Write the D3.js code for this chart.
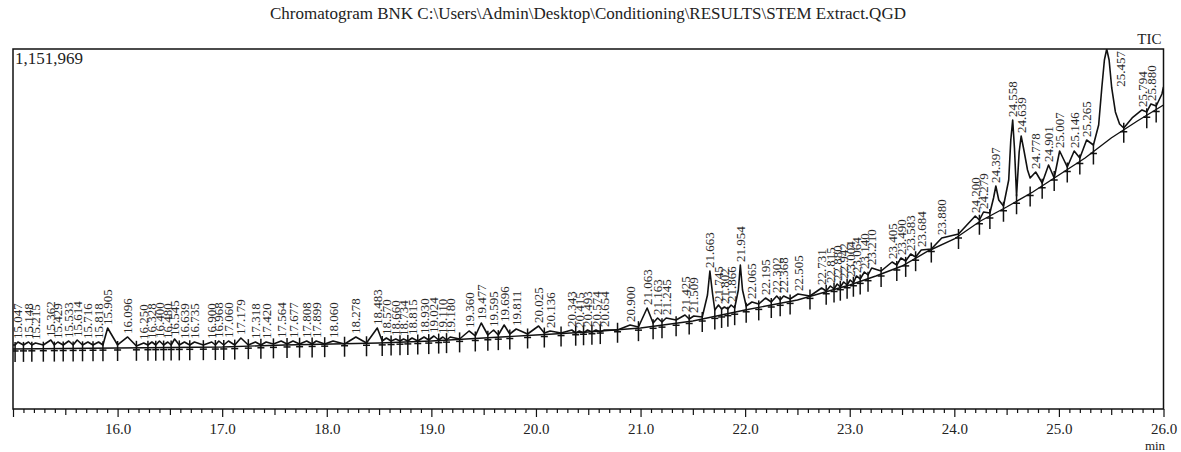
<!DOCTYPE html>
<html>
<head>
<meta charset="utf-8">
<script src="https://cdn.jsdelivr.net/npm/d3@7"></script>
<style>
  html, body { margin: 0; padding: 0; background: #fff; }
  svg { display: block; font-family: "Liberation Serif", "Times New Roman", serif; }
</style>
</head>
<body>
<svg id="chart" width="1181" height="452"></svg>
<script>
// ---- chart data ----
const titleText = "Chromatogram BNK C:\\Users\\Admin\\Desktop\\Conditioning\\RESULTS\\STEM Extract.QGD";
const traceName = "TIC";
const maxIntensity = 1151969;
const timeRange = [15.0, 26.0];
const axisUnit = "min";

// TIC trace: retention time (min) and intensity (counts)
const rt = [
  15.000, 15.020, 15.047, 15.100, 15.148, 15.180, 15.215, 15.290, 15.362, 15.395,
  15.429, 15.480, 15.533, 15.575, 15.614, 15.665, 15.716, 15.765, 15.818, 15.860,
  15.905, 16.000, 16.096, 16.180, 16.250, 16.290, 16.328, 16.365, 16.400, 16.440,
  16.480, 16.512, 16.545, 16.590, 16.639, 16.690, 16.735, 16.820, 16.900, 16.935,
  16.968, 17.015, 17.060, 17.120, 17.179, 17.250, 17.318, 17.370, 17.420, 17.490,
  17.564, 17.620, 17.677, 17.740, 17.808, 17.860, 17.899, 17.980, 18.060, 18.170,
  18.278, 18.380, 18.483, 18.530, 18.570, 18.615, 18.660, 18.700, 18.734, 18.775,
  18.815, 18.870, 18.930, 18.975, 19.024, 19.070, 19.110, 19.145, 19.180, 19.270,
  19.360, 19.420, 19.477, 19.540, 19.595, 19.640, 19.696, 19.750, 19.811, 19.920,
  20.025, 20.080, 20.136, 20.240, 20.343, 20.380, 20.415, 20.455, 20.493, 20.535,
  20.574, 20.615, 20.654, 20.780, 20.900, 20.980, 21.063, 21.120, 21.163, 21.205,
  21.245, 21.340, 21.425, 21.465, 21.509, 21.590, 21.640, 21.663, 21.690, 21.710,
  21.745, 21.775, 21.802, 21.835, 21.866, 21.900, 21.935, 21.954, 21.975, 22.010,
  22.065, 22.130, 22.195, 22.250, 22.302, 22.335, 22.368, 22.430, 22.505, 22.620,
  22.731, 22.775, 22.815, 22.850, 22.880, 22.910, 22.942, 22.975, 23.004, 23.035,
  23.064, 23.100, 23.140, 23.175, 23.210, 23.300, 23.405, 23.450, 23.490, 23.535,
  23.583, 23.630, 23.684, 23.780, 23.880, 24.040, 24.200, 24.240, 24.279, 24.340,
  24.375, 24.397, 24.425, 24.470, 24.520, 24.540, 24.558, 24.575, 24.595, 24.620,
  24.639, 24.665, 24.700, 24.725, 24.778, 24.840, 24.901, 24.955, 25.007, 25.080,
  25.146, 25.200, 25.265, 25.330, 25.380, 25.410, 25.435, 25.457, 25.480, 25.505,
  25.540, 25.580, 25.620, 25.700, 25.794, 25.840, 25.880, 25.930, 25.985, 26.000
];
const tic = [
  204800, 204800, 214400, 204800, 214400, 204800, 211200, 204800, 220800, 204800,
  214400, 204800, 217600, 204800, 220800, 204800, 214400, 204800, 214400, 204800,
  259200, 204800, 230400, 201600, 211200, 204800, 214400, 204800, 217600, 204800,
  214400, 204800, 224000, 204800, 214400, 204800, 214400, 204800, 214400, 204800,
  217600, 204800, 217600, 204800, 227200, 204800, 214400, 204800, 214400, 208000,
  217600, 208000, 217600, 208000, 217600, 208000, 217600, 208000, 217600, 208000,
  230400, 211200, 259200, 217600, 227200, 217600, 224000, 217600, 224000, 217600,
  227200, 217600, 230400, 220800, 233600, 220800, 230400, 220800, 230400, 224000,
  249600, 233600, 275200, 236800, 252800, 236800, 268800, 240000, 256000, 240000,
  265600, 243200, 249600, 243200, 252800, 243200, 249600, 243200, 252800, 246400,
  252800, 246400, 252800, 252800, 268800, 262400, 323200, 275200, 291200, 278400,
  291200, 284800, 300800, 288000, 297600, 294400, 364800, 441600, 364800, 316800,
  332800, 320000, 326400, 320000, 332800, 323200, 380800, 460800, 380800, 329600,
  342400, 336000, 355200, 342400, 361600, 348800, 361600, 352000, 368000, 361600,
  387200, 377600, 393600, 384000, 400000, 390400, 406400, 396800, 412800, 403200,
  425600, 416000, 438400, 428800, 451200, 441600, 470400, 460800, 483200, 473600,
  496000, 486400, 508800, 512000, 547200, 560000, 617600, 604800, 630400, 627200,
  675200, 713600, 668800, 649600, 732800, 860800, 924800, 835200, 681600, 822400,
  873600, 828800, 764800, 739200, 758400, 723200, 780800, 739200, 825600, 774400,
  825600, 803200, 860800, 844800, 908800, 1027200, 1116800, 1151969, 1116800, 1027200,
  950400, 912000, 899200, 931200, 956800, 950400, 976000, 969600, 1008000, 1030400
];

// labelled peak apexes (retention time, min)
const peakRT = [
  15.047, 15.148, 15.215, 15.362, 15.429, 15.533, 15.614, 15.716, 15.818, 15.905,
  16.096, 16.250, 16.328, 16.400, 16.480, 16.545, 16.639, 16.735, 16.900, 16.968,
  17.060, 17.179, 17.318, 17.420, 17.564, 17.677, 17.808, 17.899, 18.060, 18.278,
  18.483, 18.570, 18.660, 18.734, 18.815, 18.930, 19.024, 19.110, 19.180, 19.360,
  19.477, 19.595, 19.696, 19.811, 20.025, 20.136, 20.343, 20.415, 20.493, 20.574,
  20.654, 20.900, 21.063, 21.163, 21.245, 21.425, 21.509, 21.663, 21.745, 21.802,
  21.866, 21.954, 22.065, 22.195, 22.302, 22.368, 22.505, 22.731, 22.815, 22.880,
  22.942, 23.004, 23.064, 23.140, 23.210, 23.405, 23.490, 23.583, 23.684, 23.880,
  24.200, 24.279, 24.397, 24.558, 24.639, 24.778, 24.901, 25.007, 25.146, 25.265,
  25.457, 25.794, 25.880
];

// integration start / end points (retention time, min)
const markRT = [
  15.020, 15.100, 15.180, 15.290, 15.395, 15.480, 15.575, 15.665, 15.765, 15.860,
  16.000, 16.180, 16.290, 16.365, 16.440, 16.512, 16.590, 16.690, 16.820, 16.935,
  17.015, 17.120, 17.250, 17.370, 17.490, 17.620, 17.740, 17.860, 17.980, 18.170,
  18.380, 18.530, 18.615, 18.700, 18.775, 18.870, 18.975, 19.070, 19.145, 19.270,
  19.420, 19.540, 19.640, 19.750, 19.920, 20.080, 20.240, 20.380, 20.455, 20.535,
  20.615, 20.780, 20.980, 21.120, 21.205, 21.340, 21.465, 21.590, 21.710, 21.775,
  21.835, 21.900, 22.010, 22.130, 22.250, 22.335, 22.430, 22.620, 22.775, 22.850,
  22.910, 22.975, 23.035, 23.100, 23.175, 23.300, 23.450, 23.535, 23.630, 23.780,
  24.040, 24.240, 24.340, 24.470, 24.595, 24.725, 24.840, 24.955, 25.080, 25.200,
  25.330, 25.620, 25.840, 25.930
];

// drift baseline under the trace
const baseRT = [
  15.00, 16.00, 17.00, 17.60, 18.50, 19.00, 19.50, 20.00, 20.50, 21.00,
  21.50, 22.00, 22.50, 23.00, 23.25, 23.50, 23.75, 24.00, 24.25, 24.50,
  24.75, 25.00, 25.25, 25.50, 25.75, 26.00
];
const baseTIC = [
  192000, 195200, 198400, 204800, 211200, 217600, 227200, 236800, 246400, 259200,
  281600, 316800, 348800, 396800, 425600, 457600, 505600, 544000, 601600, 646400,
  694400, 748800, 803200, 867200, 921600, 972800
];

// ---- layout ----
const svg = d3.select("#chart");
const frame = { left: 13, right: 1163.5, top: 49, bottom: 409 };

const x = d3.scaleLinear().domain(timeRange).range([frame.left, frame.right]);
const y = d3.scaleLinear().domain([0, maxIntensity]).range([frame.bottom, frame.top]);
const baseAt = d3.scaleLinear().domain(baseRT).range(baseTIC);

const ink = "#111";

// title
svg.append("text")
  .attr("x", 588).attr("y", 19)
  .attr("text-anchor", "middle")
  .attr("font-size", 17)
  .attr("fill", "#222")
  .text(titleText);

// trace name, upper right
svg.append("text")
  .attr("x", frame.right - 2).attr("y", 44)
  .attr("text-anchor", "end")
  .attr("font-size", 15)
  .attr("fill", "#222")
  .text(traceName);

svg.append("defs").append("clipPath").attr("id", "plotClip")
  .append("rect")
  .attr("x", frame.left).attr("y", frame.top)
  .attr("width", frame.right - frame.left).attr("height", frame.bottom - frame.top);

const plot = svg.append("g").attr("clip-path", "url(#plotClip)");

// drift baseline
plot.append("path")
  .datum(baseRT.map((t, i) => [t, baseTIC[i]]))
  .attr("fill", "none")
  .attr("stroke", ink)
  .attr("stroke-width", 1.4)
  .attr("d", d3.line().x(d => x(d[0])).y(d => y(d[1])));

// TIC trace
plot.append("path")
  .datum(rt.map((t, i) => [t, tic[i]]))
  .attr("fill", "none")
  .attr("stroke", ink)
  .attr("stroke-width", 1.6)
  .attr("stroke-linejoin", "round")
  .attr("d", d3.line().x(d => x(d[0])).y(d => y(d[1])));

// integration markers
const marks = plot.append("g").attr("stroke", ink).attr("stroke-width", 1.5);
markRT.forEach(t => {
  const mx = x(t), my = y(baseAt(t));
  marks.append("line").attr("x1", mx).attr("x2", mx).attr("y1", my - 7).attr("y2", my + 13);
  marks.append("line").attr("x1", mx - 3.5).attr("x2", mx + 3.5).attr("y1", my + 2).attr("y2", my + 2);
});

// peak retention-time labels
const fmt = d3.format(".3f");
const labels = svg.append("g")
  .attr("font-size", 13)
  .attr("fill", "#2a2a2a");
peakRT.forEach(t => {
  const v = tic[rt.indexOf(t)];
  let px = x(t), py = y(v) - 3;
  let anchor = "start";
  if (py - 38 < frame.top) {
    // apex at the top of the frame: label beside the peak
    px = x(t) + 14;
    py = frame.top + 2;
    anchor = "end";
  }
  labels.append("text")
    .attr("transform", `translate(${px},${py}) rotate(-90)`)
    .attr("text-anchor", anchor)
    .attr("dy", "0.35em")
    .text(fmt(t));
});

// frame
svg.append("rect")
  .attr("x", frame.left).attr("y", frame.top)
  .attr("width", frame.right - frame.left).attr("height", frame.bottom - frame.top)
  .attr("fill", "none").attr("stroke", ink).attr("stroke-width", 1.5);

// full-scale intensity
svg.append("text")
  .attr("x", frame.left + 2).attr("y", frame.top + 15)
  .attr("font-size", 17)
  .attr("fill", "#222")
  .text(d3.format(",")(maxIntensity));

// time axis: 0.1 min ticks, longer at 0.5 and 1.0
const tickVals = d3.range(0, 111).map(i => +(timeRange[0] + i / 10).toFixed(1));
const axis = d3.axisBottom(x)
  .tickValues(tickVals)
  .tickSizeOuter(0)
  .tickFormat((d, i) => (i % 10 === 0 && d > timeRange[0]) ? d3.format(".1f")(d) : "");
const ax = svg.append("g")
  .attr("transform", `translate(0,${frame.bottom})`)
  .call(axis);
ax.select(".domain").remove();
ax.selectAll(".tick line")
  .attr("stroke", ink)
  .attr("stroke-width", 1.2)
  .attr("y2", (d, i) => i % 10 === 0 ? 8 : (i % 5 === 0 ? 6 : 4));
ax.selectAll(".tick text")
  .attr("y", 14)
  .attr("dy", "0.71em")
  .attr("font-family", "Liberation Serif, serif")
  .attr("font-size", 15)
  .attr("fill", "#222");

svg.append("text")
  .attr("x", 1155).attr("y", 450)
  .attr("text-anchor", "middle")
  .attr("font-size", 13)
  .attr("fill", "#222")
  .text(axisUnit);
</script>
</body>
</html>
